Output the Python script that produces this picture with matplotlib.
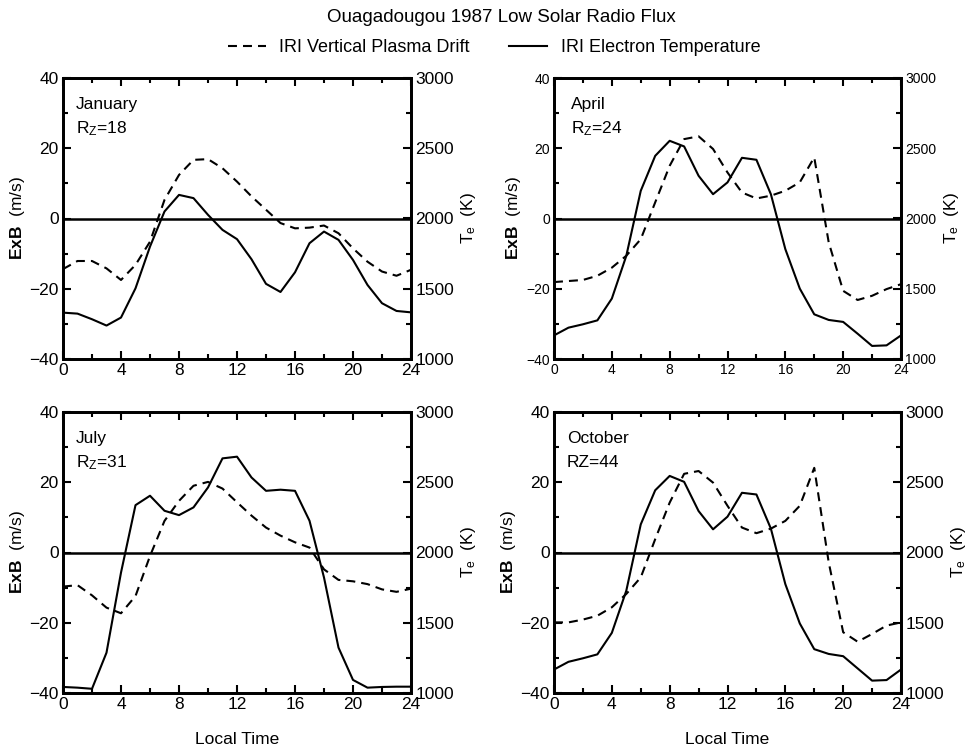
import matplotlib
matplotlib.use('Agg')
import matplotlib.pyplot as plt
from matplotlib.lines import Line2D
from matplotlib.ticker import MultipleLocator

plt.rcParams['font.family'] = ['Liberation Sans', 'DejaVu Sans']
plt.rcParams['mathtext.fontset'] = 'custom'
plt.rcParams['mathtext.rm'] = 'Liberation Sans'
plt.rcParams['mathtext.bf'] = 'Liberation Sans:bold'
plt.rcParams['mathtext.it'] = 'Liberation Sans:italic'

hours = list(range(25))

# vertical plasma drift (m/s), left axis
jan_drift = [-14.4, -12.1, -12.1, -14.2, -17.5, -13.2, -6.6, 5.3, 12.4, 16.7, 16.9, 14.3, 10.5,
             6.3, 2.5, -1.3, -2.8, -2.6, -2.0, -4.2, -8.5, -12.3, -15.1, -16.3, -14.6]
apr_drift = [-18.1, -17.8, -17.5, -16.3, -14.0, -10.6, -5.9, 4.6, 15.0, 22.6, 23.4, 19.8, 13.1,
             7.4, 5.7, 6.5, 7.9, 10.3, 17.4, -6.8, -20.6, -23.2, -22.0, -20.1, -18.7]
jul_drift = [-9.7, -9.3, -12.2, -15.7, -17.3, -12.4, -1.0, 9.0, 14.7, 19.0, 20.1, 18.2, 14.3,
             10.5, 7.1, 4.8, 2.9, 1.4, -4.8, -7.8, -8.2, -9.0, -10.5, -11.2, -10.3]
oct_drift = [-19.9, -19.9, -19.1, -18.0, -15.6, -11.8, -7.1, 3.8, 14.2, 22.4, 23.2, 19.9, 13.3,
             7.1, 5.5, 6.8, 9.0, 13.3, 24.1, -2.8, -22.7, -25.4, -23.2, -20.8, -19.9]

# electron temperature (K), right axis
jan_te = [1330, 1323, 1283, 1238, 1295, 1503, 1800, 2050, 2168, 2145, 2026, 1919, 1853,
          1710, 1535, 1477, 1617, 1824, 1907, 1848, 1705, 1527, 1397, 1342, 1332]
apr_te = [1168, 1223, 1247, 1275, 1430, 1734, 2197, 2446, 2553, 2513, 2304, 2173, 2257,
          2432, 2418, 2173, 1782, 1501, 1318, 1278, 1264, 1180, 1093, 1097, 1168]
jul_te = [1043, 1038, 1030, 1287, 1857, 2337, 2404, 2297, 2266, 2321, 2463, 2670, 2682,
          2534, 2439, 2447, 2439, 2226, 1822, 1323, 1093, 1038, 1043, 1045, 1045]
oct_te = [1167, 1222, 1247, 1275, 1428, 1728, 2200, 2443, 2545, 2503, 2295, 2165, 2255,
          2425, 2413, 2170, 1775, 1495, 1312, 1278, 1262, 1175, 1088, 1092, 1167]

months = ['January', 'April', 'July', 'October']
rz_labels = [r'$\mathregular{R_Z}$=18', r'$\mathregular{R_Z}$=24', r'$\mathregular{R_Z}$=31', 'RZ=44']
drifts = [jan_drift, apr_drift, jul_drift, oct_drift]
temps = [jan_te, apr_te, jul_te, oct_te]

W, H = 971, 749
boxes = [(63, 78, 411, 359), (554, 78, 901, 359), (63, 412, 411, 693), (554, 412, 901, 693)]
dash = (4.3, 2.9)
lw = 1.5

fig = plt.figure(figsize=(W / 100, H / 100), dpi=100)

for i in range(4):
    x0, y0, x1, y1 = boxes[i]
    ax = fig.add_axes([x0 / W, 1 - y1 / H, (x1 - x0) / W, (y1 - y0) / H])
    ax2 = ax.twinx()
    tick_fs = 10 if i == 1 else 12.5

    ax.plot(hours, drifts[i], color='black', lw=lw, dashes=dash)
    ax.axhline(0, color='black', lw=1.8)
    ax2.plot(hours, temps[i], color='black', lw=lw)

    ax.set_xlim(0, 24)
    ax.set_ylim(-40, 40)
    ax2.set_ylim(1000, 3000)
    ax.xaxis.set_major_locator(MultipleLocator(4))
    ax.xaxis.set_minor_locator(MultipleLocator(2))
    ax.yaxis.set_major_locator(MultipleLocator(20))
    ax.yaxis.set_minor_locator(MultipleLocator(10))
    ax2.yaxis.set_major_locator(MultipleLocator(500))
    ax2.yaxis.set_minor_locator(MultipleLocator(250))

    ax.tick_params(which='both', direction='in', top=True, right=False, width=1.5,
                   labelsize=tick_fs, pad=3)
    ax.tick_params(which='major', length=6)
    ax.tick_params(which='minor', length=3.5)
    ax2.tick_params(which='both', direction='in', width=1.5, labelsize=tick_fs, pad=3)
    ax2.tick_params(which='major', length=6)
    ax2.tick_params(which='minor', length=3.5)

    for a in (ax, ax2):
        for s in a.spines.values():
            s.set_linewidth(2)

    ax.set_ylabel(r'$\mathbf{ExB}$  (m/s)', fontsize=12.5, labelpad=2)
    ax2.set_ylabel(r'$\mathregular{T_e}$  (K)', fontsize=12.5, labelpad=4)
    if i >= 2:
        ax.set_xlabel('Local Time', fontsize=12.5, labelpad=14)

    tx = 0.037 if i != 1 else 0.049
    ax.text(tx, 0.905, months[i], transform=ax.transAxes, fontsize=12.5, va='center')
    ax.text(tx, 0.82, rz_labels[i], transform=ax.transAxes, fontsize=12.5, va='center')

fig.text(501 / W, 1 - 18 / H, 'Ouagadougou 1987 Low Solar Radio Flux', fontsize=13.5,
         ha='center', va='center')

handles = [Line2D([], [], color='black', lw=lw, dashes=dash),
           Line2D([], [], color='black', lw=lw)]
fig.legend(handles, ['IRI Vertical Plasma Drift', 'IRI Electron Temperature'],
           loc='center', bbox_to_anchor=(494 / W, 1 - 48 / H), ncol=2, frameon=False,
           fontsize=13, handlelength=2.1, handletextpad=0.75, columnspacing=2.2)

fig.savefig('out.png', dpi=100)
